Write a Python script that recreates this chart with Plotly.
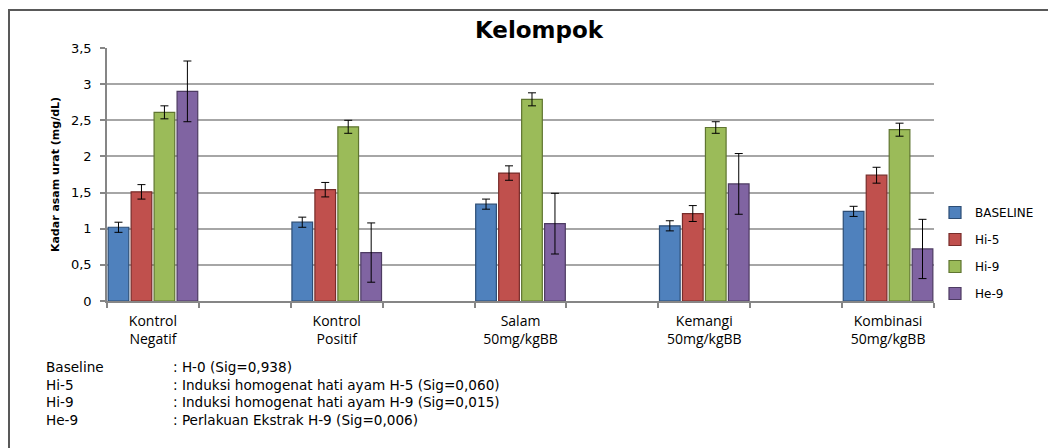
import plotly.graph_objects as go

# ---- data ----
categories = ["Kontrol<br>Negatif", "Kontrol<br>Positif", "Salam<br>50mg/kgBB",
              "Kemangi<br>50mg/kgBB", "Kombinasi<br>50mg/kgBB"]
series_names = ["BASELINE", "Hi-5", "Hi-9", "He-9"]
baseline = [1.02, 1.09, 1.34, 1.04, 1.24]
hi5 = [1.51, 1.54, 1.77, 1.21, 1.74]
hi9 = [2.61, 2.41, 2.79, 2.40, 2.37]
he9 = [2.90, 0.67, 1.07, 1.62, 0.72]
err_baseline = [0.07, 0.07, 0.07, 0.07, 0.07]
err_hi5 = [0.10, 0.10, 0.10, 0.11, 0.11]
err_hi9 = [0.09, 0.09, 0.09, 0.08, 0.09]
err_he9 = [0.42, 0.41, 0.42, 0.42, 0.41]
note_keys = ["Baseline", "Hi-5", "Hi-9", "He-9"]
note_texts = [": H-0 (Sig=0,938)",
              ": Induksi homogenat hati ayam H-5 (Sig=0,060)",
              ": Induksi homogenat hati ayam H-9 (Sig=0,015)",
              ": Perlakuan Ekstrak H-9 (Sig=0,006)"]

fills = ["#4F81BD", "#C0504D", "#9BBB59", "#8064A2"]
edges = ["#2C4D75", "#772C2A", "#5F7530", "#4D3B62"]

# categories placed with an empty slot between each
xpos = [2 * i for i in range(len(categories))]
n_series = len(series_names)
slot = 1.0 / n_series
bar_w = slot * 0.9

fig = go.Figure()
for k, (name, vals, errs, fc, ec) in enumerate(zip(
        series_names, [baseline, hi5, hi9, he9],
        [err_baseline, err_hi5, err_hi9, err_he9], fills, edges)):
    fig.add_trace(go.Bar(
        x=xpos, y=vals, name=name, legendgroup=name,
        width=bar_w, offset=-0.5 + k * slot + (slot - bar_w) / 2,
        marker=dict(color=fc, line=dict(color=ec, width=1.2)),
        error_y=dict(type="data", array=errs, color="#000000", thickness=1, width=4),
    ))

SH = 8  # page body margin offset
W, H = 1056, 448
L, T = 107 - SH, 48 - SH
R = W - (934 - SH)
B = H - (301 - SH)
pw, ph = W - L - R, H - T - B

def px_x(p):  # page pixel -> plot paper fraction
    return (p - SH - L) / pw

def px_y(p):
    return (H - B - (p - SH)) / ph

fig.update_layout(
    width=W, height=H,
    margin=dict(l=L, r=R, t=T, b=B, autoexpand=False),
    paper_bgcolor="white", plot_bgcolor="white",
    separators=",.",
    barmode="overlay",
    title=dict(text="<b>Kelompok</b>", xref="container", yref="container",
               x=(539 - SH) / W, xanchor="center",
               y=1 - (30 - SH) / H, yanchor="middle",
               font=dict(family="DejaVu Sans", size=23, color="#000000")),
    showlegend=True,
    legend=dict(x=px_x(935), y=px_y(198), xanchor="left", yanchor="top",
                font=dict(family="DejaVu Sans", size=12, color="#000000"),
                tracegroupgap=8, bgcolor="rgba(0,0,0,0)", itemwidth=30),
    xaxis=dict(
        range=[-0.5, 2 * len(categories) - 1.5],
        tickvals=xpos, ticktext=categories,
        ticks="outside", ticklen=6, tickcolor="rgba(0,0,0,0)",
        tickfont=dict(family="Open Sans", size=14, color="#000000"),
        showline=True, linecolor="#868686", linewidth=1.5,
        showgrid=False, zeroline=False,
        minor=dict(tick0=0.5, dtick=1, ticks="outside", ticklen=5,
                   tickcolor="#868686", tickwidth=1.5, showgrid=False),
    ),
    yaxis=dict(
        range=[0, 3.5], dtick=0.5, tick0=0,
        ticks="outside", ticklen=5, tickcolor="#868686", tickwidth=1.5,
        ticklabelstandoff=6,
        tickfont=dict(family="DejaVu Sans", size=13, color="#000000"),
        showline=True, linecolor="#868686", linewidth=1.5,
        showgrid=True, gridcolor="#A6A6A6", gridwidth=1.5,
        zeroline=False,
        title=dict(text="<b>Kadar asam urat (mg/dL)</b>", standoff=9,
                   font=dict(family="DejaVu Sans", size=11, color="#000000")),
    ),
)

# outer chart border (cropped at right and bottom)
fig.add_shape(type="rect", xref="paper", yref="paper",
              x0=px_x(9), x1=px_x(1080), y0=px_y(470), y1=px_y(10),
              line=dict(color="#595959", width=2), fillcolor="rgba(0,0,0,0)",
              layer="below")

# notes under the chart (two aligned text blocks)
notes_center_y = 393.5
fig.add_annotation(text="<br>".join(note_keys), xref="paper", yref="paper",
                   x=px_x(44), y=px_y(notes_center_y), align="left",
                   xanchor="left", yanchor="middle", showarrow=False,
                   font=dict(family="DejaVu Sans", size=13.6, color="#000000"))
fig.add_annotation(text="<br>".join(note_texts), xref="paper", yref="paper",
                   x=px_x(171), y=px_y(notes_center_y), align="left",
                   xanchor="left", yanchor="middle", showarrow=False,
                   font=dict(family="DejaVu Sans", size=13.6, color="#000000"))

fig.write_html("out.html")
